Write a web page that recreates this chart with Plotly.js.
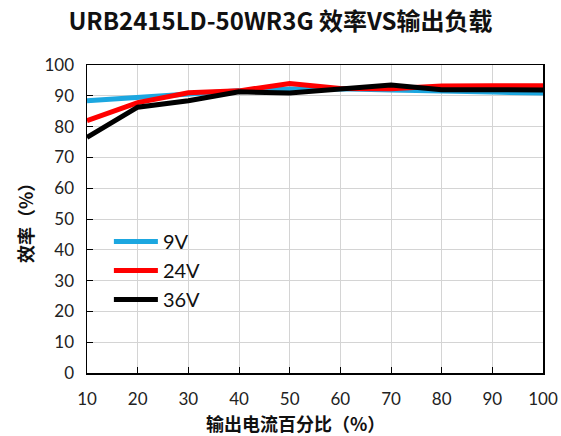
<!DOCTYPE html>
<html>
<head>
<meta charset="utf-8">
<script src="https://cdn.plot.ly/plotly-3.0.1.min.js"></script>
<style>html,body{margin:0;padding:0;background:#fff;}#chart{width:561px;height:436px;}</style>
</head>
<body>
<div id="chart"></div>
<script>
var loadPct = [10, 20, 30, 40, 50, 60, 70, 80, 90, 100];
var eff9V  = [88.4, 89.5, 90.8, 91.6, 92.2, 92.3, 91.9, 91.4, 91.2, 90.9];
var eff24V = [81.9, 87.8, 91.0, 91.6, 94.0, 92.4, 92.3, 93.2, 93.3, 93.3];
var eff36V = [76.5, 86.3, 88.4, 91.3, 90.9, 92.4, 93.5, 92.0, 91.9, 91.9];
var seriesNames = ['9V', '24V', '36V'];
var xTicks = [10, 20, 30, 40, 50, 60, 70, 80, 90, 100];
var yTicks = [0, 10, 20, 30, 40, 50, 60, 70, 80, 90, 100];

var colors = ['#1ca7e0', '#ff0000', '#000000'];
var series = [eff9V, eff24V, eff36V];
var traces = series.map(function (s, i) {
  return {
    x: loadPct, y: s, type: 'scatter', mode: 'lines', name: seriesNames[i],
    legendgroup: 'g' + i,
    line: {color: colors[i], width: 5}
  };
});

var tickFont = {family: 'Lato, "Open Sans", sans-serif', size: 17, color: '#222'};
var layout = {
  width: 561, height: 436,
  margin: {l: 87, r: 18, t: 65, b: 63},
  paper_bgcolor: '#fff', plot_bgcolor: '#fff',
  title: {text: 'URB2415LD-50WR3G 效率VS输出负载', x: 0.5, xanchor: 'center', y: 0.95, yanchor: 'middle',
          font: {family: '"Noto Sans CJK SC", sans-serif', size: 24, color: '#111', weight: 'bold'}},
  xaxis: {
    range: [10, 100], tickvals: xTicks, ticktext: xTicks.map(String),
    showgrid: true, gridcolor: '#d4d4d4', gridwidth: 1,
    showline: true, linecolor: '#000', linewidth: 1.5, mirror: true,
    ticks: 'inside', ticklen: 6, tickcolor: '#000', tickfont: tickFont,
    ticklabelstandoff: 10,
    zeroline: false, fixedrange: true
  },
  yaxis: {
    range: [0, 100], tickvals: yTicks, ticktext: yTicks.map(String),
    showgrid: true, gridcolor: '#d4d4d4', gridwidth: 1,
    showline: true, linecolor: '#000', linewidth: 1.5, mirror: true,
    ticks: 'inside', ticklen: 6, tickcolor: '#000', tickfont: tickFont,
    ticklabelstandoff: 8,
    zeroline: false, fixedrange: true
  },
  showlegend: true,
  legend: {
    x: 0.048, y: 0.49, xanchor: 'left', yanchor: 'top',
    bgcolor: 'rgba(0,0,0,0)', borderwidth: 0,
    font: {family: 'Lato, "Open Sans", sans-serif', size: 20, color: '#111'},
    traceorder: 'normal', tracegroupgap: 5, itemwidth: 44
  },
  annotations: [
    {text: '输出电流百分比（%）', xref: 'paper', yref: 'paper', x: 0.458, y: 0, yshift: -50, xanchor: 'center', yanchor: 'middle',
     showarrow: false, font: {family: '"Noto Sans CJK SC", sans-serif', size: 18, color: '#111', weight: 'bold'}},
    {text: '效率（%）', xref: 'paper', yref: 'paper', x: 0, xshift: -62, y: 0.5, xanchor: 'center', yanchor: 'middle',
     textangle: -90, showarrow: false, font: {family: '"Noto Sans CJK SC", sans-serif', size: 18, color: '#111', weight: 'bold'}}
  ]
};
Plotly.newPlot('chart', traces, layout, {staticPlot: true, displayModeBar: false});
</script>
</body>
</html>
